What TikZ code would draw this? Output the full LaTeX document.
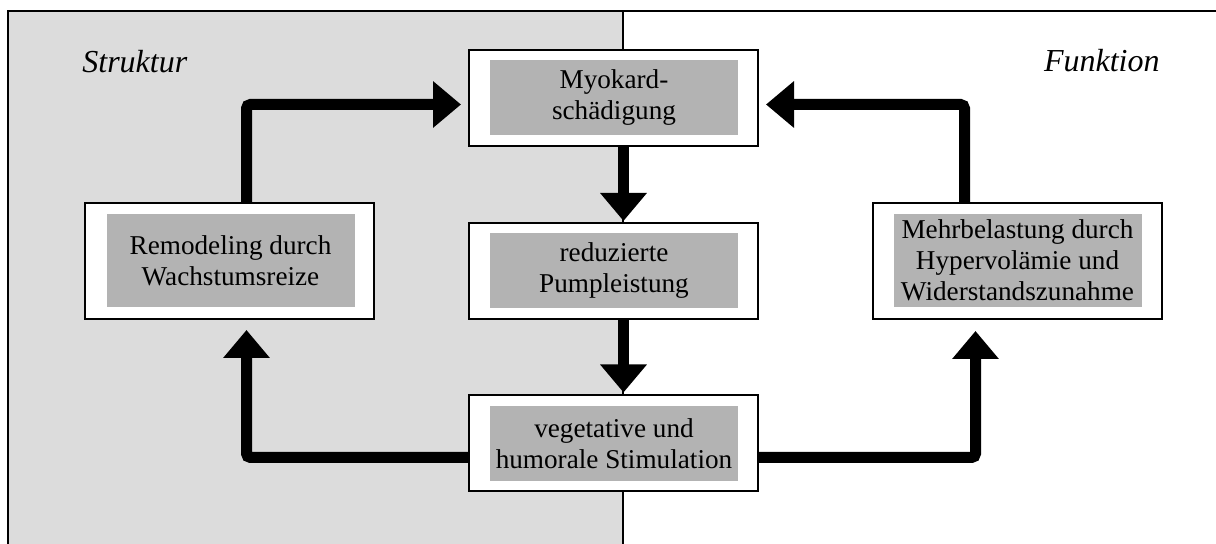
\documentclass[tikz,border=0pt]{standalone}
\usepackage{fontspec}
\setmainfont{Liberation Serif}
\usetikzlibrary{arrows.meta}
\definecolor{bgL}{HTML}{DCDCDC}
\definecolor{inner}{HTML}{B3B3B3}
\begin{document}
\begin{tikzpicture}[x=0.5pt,y=-0.5pt,
  outerbox/.style={draw=black,line width=1pt,fill=white,minimum width=144.5pt,minimum height=48pt,inner sep=0pt},
  tallbox/.style={outerbox,minimum height=58pt},
  graybox/.style={fill=inner,minimum width=124pt,minimum height=37.5pt,inner sep=0pt,align=center,font=\fontsize{13.6}{15.5}\selectfont},
  tallgray/.style={graybox,minimum height=46.5pt},
  bigarrow/.style={line width=5.5pt,rounded corners=2pt,-{Triangle[width=22.5pt,length=14pt]}},
  label/.style={font=\fontsize{16}{19}\selectfont\itshape,inner sep=0pt}]
\useasboundingbox (0,0) rectangle (1216,544);
% background regions
\fill[bgL] (8,11) rectangle (623,544);
\draw[line width=1pt] (8,544) -- (8,11) -- (1216,11);
\draw[line width=0.8pt] (623,11) -- (623,544);
% labels
\node[label,anchor=base west] (struk) at (82,73) {Struktur};
\node[label,anchor=base east] (funk) at (1160,72) {Funktion};
% boxes
\node[outerbox] (myo) at (613.5,98) {};
\node[graybox] (myoT) at (614,98) {Myokard-\\schädigung};
\node[outerbox] (red) at (613.5,271) {};
\node[graybox] (redT) at (614,270.5) {reduzierte\\Pumpleistung};
\node[outerbox] (veg) at (613.5,443.5) {};
\node[graybox] (vegT) at (614,443.5) {vegetative und\\humorale Stimulation};
\node[tallbox] (remo) at (229.5,261) {};
\node[tallgray] (remoT) at (230.5,260.5) {Remodeling durch\\Wachstumsreize};
\node[tallbox] (mehr) at (1017.5,261) {};
\node[tallgray] (mehrT) at (1017.5,260.5) {Mehrbelastung durch\\Hypervolämie und\\Widerstandszunahme};
% arrows
\draw[bigarrow] ([xshift=8.5pt]remo.north) |- ([xshift=-3.5pt,yshift=-3.25pt]myo.west);
\draw[bigarrow] ([xshift=-26.5pt]mehr.north) |- ([xshift=3.5pt,yshift=-3.25pt]myo.east);
\draw[bigarrow] ([xshift=5pt]myo.south) -- ([xshift=5pt,yshift=0.5pt]red.north);
\draw[bigarrow] ([xshift=5pt]red.south) -- ([xshift=5pt,yshift=1pt]veg.north);
\draw[bigarrow] ([yshift=-7pt]veg.west) -| ([xshift=8.5pt,yshift=-5pt]remo.south);
\draw[bigarrow] ([yshift=-7pt]veg.east) -| ([xshift=-21pt,yshift=-5.5pt]mehr.south);
\end{tikzpicture}
\end{document}
